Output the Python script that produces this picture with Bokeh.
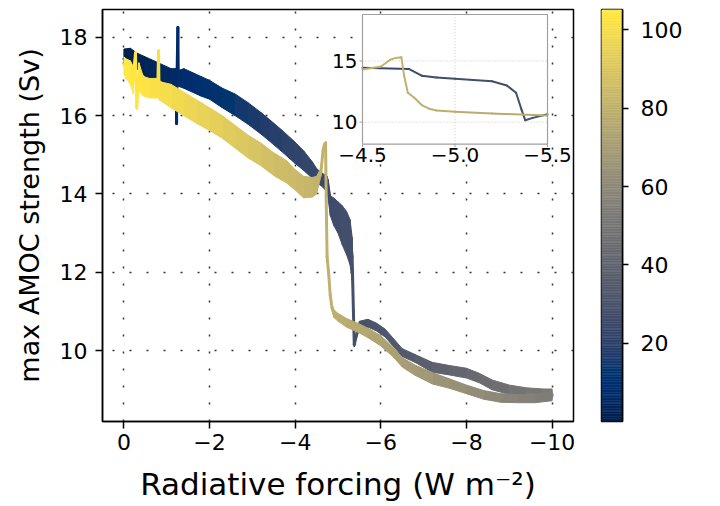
import numpy as np
from bokeh.plotting import figure
from bokeh.models import (Range1d, FixedTicker, CustomJSTickFormatter, ColumnDataSource, Label)
from bokeh.transform import linear_cmap
from bokeh.palettes import Cividis256
from bokeh.layouts import row
from bokeh.embed import file_html
from bokeh.resources import INLINE
from bokeh.core.properties import value

FONT = "DejaVu Sans"

# ---------------- data ----------------
# forward ramp (0 -> -10 W m-2): forcing, AMOC (inset line), band low/high in main panel, time (ka)
fwd_x = [0.0, -0.15, -0.3, -0.5, -0.7, -0.9, -1.1, -1.22, -1.23, -1.24, -1.26, -1.27,
         -1.4, -1.6, -1.8, -2.0, -2.3, -2.6, -2.9, -3.2, -3.4, -3.7, -4.0, -4.2, -4.4,
         -4.5, -4.6, -4.75, -4.82, -4.9, -5.0, -5.1, -5.2, -5.28, -5.33, -5.36, -5.38,
         -5.42, -5.5, -5.7, -5.9, -6.1, -6.3, -6.5, -6.8, -7.2, -7.6, -8.0, -8.3, -8.6,
         -9.0, -9.4, -9.8, -10.0]
fwd_y = [17.45, 17.5, 17.4, 17.25, 17.15, 17.05, 16.95, 16.95, 15.8, 16.95, 18.25, 16.95,
         16.95, 16.85, 16.75, 16.67, 16.45, 16.27, 16.05, 15.8, 15.63, 15.35, 15.05, 14.85, 14.6,
         14.45, 14.4, 14.35, 13.8, 13.65, 13.55, 13.45, 13.35, 13.0, 12.4, 11.0, 10.15,
         10.35, 10.65, 10.7, 10.6, 10.45, 10.2, 9.95, 9.8, 9.58, 9.5, 9.42, 9.3, 9.12,
         9.0, 8.93, 8.9, 8.88]
fwd_lo = [17.25, 17.3, 17.2, 17.0, 16.85, 16.8, 16.7, 16.7, 15.78, 16.8, 18.23, 16.75,
          16.7, 16.6, 16.5, 16.42, 16.2, 16.0, 15.78, 15.53, 15.35, 15.07, 14.78, 14.6, 14.4,
          14.28, 14.22, 14.05, 13.45, 13.2, 13.0, 12.7, 12.45, 12.2, 11.8, 10.95, 10.1,
          10.3, 10.55, 10.6, 10.5, 10.35, 10.1, 9.85, 9.7, 9.45, 9.38, 9.3, 9.18, 9.0,
          8.88, 8.82, 8.78, 8.75]
fwd_hi = [17.7, 17.72, 17.6, 17.5, 17.4, 17.3, 17.2, 17.2, 15.82, 17.1, 18.27, 17.15,
          17.2, 17.1, 17.0, 16.9, 16.7, 16.55, 16.33, 16.08, 15.9, 15.62, 15.32, 15.1, 14.82,
          14.65, 14.55, 14.45, 13.95, 13.9, 13.8, 13.7, 13.55, 13.35, 12.9, 11.05, 10.2,
          10.4, 10.75, 10.8, 10.7, 10.55, 10.3, 10.05, 9.9, 9.7, 9.62, 9.55, 9.42, 9.25,
          9.12, 9.05, 9.02, 9.02]
fwd_t = [0.0, 1.0, 1.6, 2.6, 3.7, 4.7, 5.8, 6.4, 6.45, 6.5, 6.6, 6.7,
         7.4, 8.4, 9.5, 10.5, 12.1, 13.7, 15.2, 16.8, 17.9, 19.4, 21.0, 22.1, 23.1,
         23.6, 24.2, 24.9, 25.3, 25.7, 26.3, 26.8, 27.3, 27.7, 28.0, 28.1, 28.3,
         28.5, 28.9, 29.9, 31.0, 32.0, 33.1, 34.1, 35.7, 37.8, 39.9, 42.0, 43.6, 45.2,
         47.3, 49.4, 51.5, 52.5]

# backward ramp (-10 -> 0 W m-2)
bwd_x = [-10.0, -9.6, -9.2, -8.8, -8.4, -8.0, -7.6, -7.2, -6.8, -6.5, -6.3, -6.0,
         -5.7, -5.5, -5.2, -5.0, -4.9, -4.86, -4.82, -4.78, -4.745, -4.725, -4.71, -4.68,
         -4.65, -4.6, -4.5, -4.4, -4.2, -4.0, -3.8, -3.5, -3.2, -2.9, -2.6, -2.3, -2.0,
         -1.7, -1.4, -1.1, -0.9, -0.82, -0.81, -0.79, -0.6, -0.45, -0.35, -0.3, -0.27,
         -0.22, -0.15, -0.05, 0.0]
bwd_y = [8.85, 8.78, 8.77, 8.78, 8.88, 9.0, 9.15, 9.3, 9.5, 9.7, 9.95, 10.25,
         10.45, 10.55, 10.7, 10.85, 10.95, 11.1, 11.4, 12.0, 12.4, 13.8, 15.3, 15.25,
         15.1, 14.55, 14.3, 14.2, 14.2, 14.35, 14.55, 14.75, 15.0, 15.2, 15.45, 15.7, 15.9,
         16.1, 16.3, 16.5, 16.6, 16.65, 17.65, 16.7, 16.7, 16.75, 17.0, 16.2, 17.6,
         16.9, 17.1, 17.2, 17.3]
bwd_lo = [8.72, 8.67, 8.67, 8.68, 8.76, 8.9, 9.04, 9.15, 9.37, 9.58, 9.83, 10.12,
          10.33, 10.45, 10.6, 10.75, 10.85, 11.05, 11.35, 11.95, 12.35, 13.78, 15.25, 15.2,
          15.05, 14.45, 14.0, 13.92, 13.9, 14.1, 14.28, 14.47, 14.72, 14.92, 15.17, 15.42, 15.62,
          15.8, 16.0, 16.2, 16.35, 16.4, 17.6, 16.45, 16.45, 16.5, 16.65, 16.15, 17.55,
          16.55, 16.8, 16.95, 17.05]
bwd_hi = [8.98, 8.9, 8.88, 8.9, 8.98, 9.12, 9.28, 9.44, 9.63, 9.82, 10.07, 10.38,
          10.57, 10.68, 10.82, 10.95, 11.05, 11.15, 11.45, 12.05, 12.45, 13.82, 15.35, 15.3,
          15.15, 14.65, 14.45, 14.42, 14.45, 14.62, 14.85, 15.05, 15.3, 15.5, 15.75, 16.0, 16.2,
          16.4, 16.6, 16.8, 16.85, 16.9, 17.7, 16.95, 16.95, 17.0, 17.35, 16.25, 17.65,
          17.25, 17.4, 17.45, 17.5]
bwd_t = [52.5, 54.6, 56.7, 58.8, 60.9, 63.0, 65.1, 67.2, 69.3, 70.9, 71.9, 73.5,
         75.1, 76.1, 77.7, 78.8, 79.3, 79.5, 79.7, 79.9, 80.1, 80.2, 80.3, 80.4,
         80.6, 80.9, 81.4, 81.9, 83.0, 84.0, 85.0, 86.6, 88.2, 89.8, 91.4, 93.0, 94.5,
         96.1, 97.7, 99.2, 100.3, 100.7, 100.75, 100.85, 101.9, 102.6, 103.2, 103.4, 103.6,
         103.8, 104.2, 104.7, 105.0]

x_ticks = [0, -2, -4, -6, -8, -10]
y_ticks = [10, 12, 14, 16, 18]
inset_x_ticks = [-4.5, -5.0, -5.5]
inset_x_labels = ["\u22124.5", "\u22125.0", "\u22125.5"]
inset_y_ticks = [10, 15]
inset_y_labels = ["10", "15"]
cbar_ticks = [20, 40, 60, 80, 100]
T_MIN, T_MAX = 0.0, 105.2

# ---------------- layout geometry (page pixels) ----------------
MAIN_L, MAIN_R, MAIN_T, MAIN_B = 102, 573, 9, 422      # main frame
INS_L, INS_R, INS_T, INS_B = 362, 547, 14, 144         # inset frame
MAIN_X = (0.5, -10.5)
MAIN_Y = (8.19, 18.71)
INS_X = (-4.5, -5.5)
INS_Y = (8.2, 18.8)


def extended(v0, v1, p0, p1, q0, q1):
    """Values at pixels q0, q1 of the linear map taking pixel p0 -> v0 and p1 -> v1."""
    k = (v1 - v0) / (p1 - p0)
    return v0 + (q0 - p0) * k, v0 + (q1 - p0) * k


ins_x_start, ins_x_end = extended(INS_X[0], INS_X[1], INS_L, INS_R, MAIN_L, MAIN_R)
ins_y_start, ins_y_end = extended(INS_Y[0], INS_Y[1], INS_B, INS_T, MAIN_B, MAIN_T)

# ---------------- helpers ----------------
def band_source(xs, los, his, ts):
    pxs, pys, pts = [], [], []
    for i in range(len(xs) - 1):
        pxs.append([xs[i], xs[i + 1], xs[i + 1], xs[i]])
        pys.append([los[i], los[i + 1], his[i + 1], his[i]])
        pts.append((ts[i] + ts[i + 1]) / 2)
    return ColumnDataSource(dict(xs=pxs, ys=pys, t=pts))


def seg_source(xs, ys, ts):
    return ColumnDataSource(dict(x0=xs[:-1], y0=ys[:-1], x1=xs[1:], y1=ys[1:],
                                 t=[(a + b) / 2 for a, b in zip(ts[:-1], ts[1:])]))


CMAP = linear_cmap("t", Cividis256, T_MIN, T_MAX)

# ---------------- main plot ----------------
main = figure(width=MAIN_R + 2, height=504, x_range=Range1d(*MAIN_X), y_range=Range1d(*MAIN_Y),
              output_backend="svg", toolbar_location=None,
              min_border_left=MAIN_L, min_border_right=2, min_border_top=MAIN_T,
              min_border_bottom=504 - MAIN_B)
main.background_fill_color = "white"
main.border_fill_color = "white"
main.outline_line_color = "black"
main.outline_line_width = 1.5

for xs, ys, los, his, ts in [(fwd_x, fwd_y, fwd_lo, fwd_hi, fwd_t),
                             (bwd_x, bwd_y, bwd_lo, bwd_hi, bwd_t)]:
    main.patches("xs", "ys", source=band_source(xs, los, his, ts),
                 fill_color=CMAP, line_color=CMAP, line_width=1)
    main.segment("x0", "y0", "x1", "y1", source=seg_source(xs, ys, ts),
                 line_color=CMAP, line_width=3, line_cap="round")

main.xaxis.ticker = FixedTicker(ticks=x_ticks)
main.yaxis.ticker = FixedTicker(ticks=y_ticks)
main.xgrid.ticker = FixedTicker(ticks=x_ticks)
main.ygrid.ticker = FixedTicker(ticks=y_ticks)
main.xaxis.formatter = CustomJSTickFormatter(
    code="return (tick < 0 ? '\u2212' : '') + Math.abs(tick).toFixed(0);")
main.xaxis.axis_label = "Radiative forcing (W m\u207b\u00b2)"
main.yaxis.axis_label = "max AMOC strength (Sv)"
for ax in (main.xaxis[0], main.yaxis[0]):
    ax.major_label_text_font = FONT
    ax.major_label_text_font_size = "22px"
    ax.major_label_text_color = "black"
    ax.axis_label_text_font = FONT
    ax.axis_label_text_font_style = "normal"
    ax.axis_label_text_color = "black"
    ax.major_tick_out = 7
    ax.major_tick_in = 0
    ax.minor_tick_out = 0
    ax.minor_tick_in = 0
    ax.axis_line_width = 1.5
    ax.major_tick_line_width = 1.5
    ax.axis_line_color = "black"
    ax.major_tick_line_color = "black"
main.xaxis.axis_label_text_font_size = "31px"
main.yaxis.axis_label_text_font_size = "27px"
main.xaxis.major_label_standoff = 5
main.yaxis.major_label_standoff = 8
main.xaxis.axis_label_standoff = 13
main.yaxis.axis_label_standoff = 12
for g in (main.xgrid[0], main.ygrid[0]):
    g.grid_line_color = "#333333"
    g.grid_line_width = 1.5
    g.grid_line_dash = "2 15"

# ---------------- inset (its own ranges inside the main frame) ----------------
main.extra_x_ranges = {"ins": Range1d(start=ins_x_start, end=ins_x_end)}
main.extra_y_ranges = {"ins": Range1d(start=ins_y_start, end=ins_y_end)}
rk = dict(x_range_name="ins", y_range_name="ins")
main.quad(left=INS_X[0], right=INS_X[1], bottom=INS_Y[0], top=INS_Y[1],
          fill_color="white", line_color=None, **rk)
main.segment(x0=inset_x_ticks, y0=[INS_Y[0]] * 3, x1=inset_x_ticks, y1=[INS_Y[1]] * 3,
             line_color="#c8c8c8", line_width=1, line_dash="1 2", **rk)
main.segment(x0=[INS_X[0]] * 2, y0=inset_y_ticks, x1=[INS_X[1]] * 2, y1=inset_y_ticks,
             line_color="#c8c8c8", line_width=1, line_dash="1 2", **rk)
for xs, ys, ts in [(fwd_x, fwd_y, fwd_t), (bwd_x, bwd_y, bwd_t)]:
    idx = [i for i, x in enumerate(xs) if INS_X[1] - 1e-9 <= x <= INS_X[0] + 1e-9]
    main.segment("x0", "y0", "x1", "y1",
                 source=seg_source([xs[i] for i in idx], [ys[i] for i in idx],
                                   [ts[i] for i in idx]),
                 line_color=CMAP, line_width=2, line_cap="round", **rk)
main.quad(left=INS_X[0], right=INS_X[1], bottom=INS_Y[0], top=INS_Y[1],
          fill_color=None, line_color="#a0a0a0", line_width=1.2, **rk)
main.ray(x=[INS_X[0]] * 2, y=inset_y_ticks, length=3, length_units="screen",
         angle=np.pi, line_color="#a0a0a0", line_width=1, **rk)
main.ray(x=inset_x_ticks, y=[INS_Y[0]] * 3, length=3, length_units="screen",
         angle=-np.pi / 2, line_color="#a0a0a0", line_width=1, **rk)
main.text(x=[INS_X[0]] * 2, y=inset_y_ticks, text=inset_y_labels, x_offset=-5,
          text_align="right", text_baseline="middle", text_font=value(FONT),
          text_font_size="20px", text_color="black", **rk)
main.text(x=inset_x_ticks, y=[INS_Y[0]] * 3, text=inset_x_labels, y_offset=4,
          text_align="center", text_baseline="top", text_font=value(FONT),
          text_font_size="20px", text_color="black", **rk)

# ---------------- colour bar ----------------
CB_L = 601
cb = figure(width=130, height=504, x_range=Range1d(0, 1), y_range=Range1d(T_MIN, T_MAX),
            output_backend="svg", toolbar_location=None, x_axis_location=None,
            y_axis_location="right",
            min_border_left=CB_L - (MAIN_R + 2), min_border_right=130 - (CB_L - (MAIN_R + 2)) - 21,
            min_border_top=9, min_border_bottom=504 - 423)
cb.grid.visible = False
cb.border_fill_color = "white"
edges = np.linspace(T_MIN, T_MAX, len(Cividis256) + 1)
cb.quad(left=0, right=1, bottom=edges[:-1], top=edges[1:],
        fill_color=list(Cividis256), line_color=list(Cividis256), line_width=0.5)
cb.outline_line_color = "black"
cb.outline_line_width = 1.5
cax = cb.yaxis[0]
cax.ticker = FixedTicker(ticks=cbar_ticks)
cax.major_label_text_font = FONT
cax.major_label_text_font_size = "22px"
cax.major_label_text_color = "black"
cax.major_tick_out = 6
cax.major_tick_in = 0
cax.minor_tick_out = 0
cax.minor_tick_in = 0
cax.major_label_standoff = 12
cax.axis_line_width = 1.5
cax.major_tick_line_width = 1.5
cb.add_layout(Label(x=4.48, y=51, text="Time (ka)", angle=90, angle_units="deg",
                    text_align="center", text_baseline="middle",
                    text_font=FONT, text_font_size="18px", text_color="black"))

layout = row(main, cb)
open("out.html", "w").write(file_html(layout, INLINE))
